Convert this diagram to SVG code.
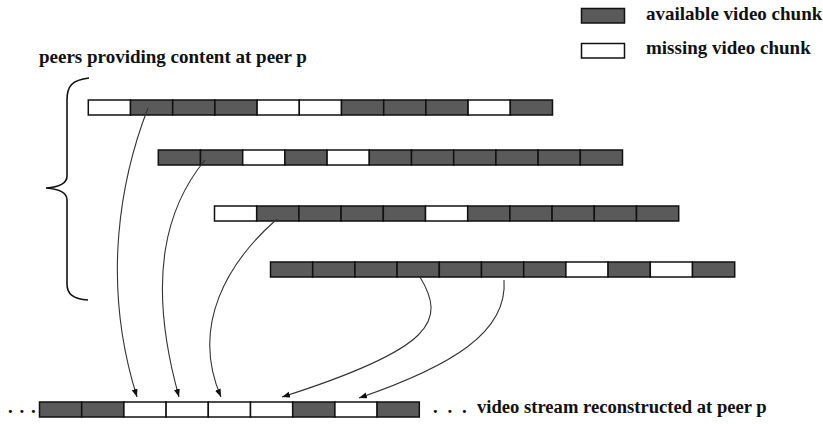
<svg xmlns="http://www.w3.org/2000/svg" width="823" height="424" viewBox="0 0 823 424">
<style>
.d{fill:#5a5a5a;stroke:#111;stroke-width:1.5}
.w{fill:#fff;stroke:#111;stroke-width:1.5}
.t{font-family:"Liberation Serif","Times New Roman",serif;font-weight:bold;font-size:19px;fill:#111}
.c{fill:none;stroke:#333;stroke-width:1.1}
</style>
<defs>
<marker id="ah" markerUnits="userSpaceOnUse" markerWidth="9" markerHeight="7" refX="8" refY="3" orient="auto">
<path d="M0,0 L8,3 L0,6 z" fill="#111"/>
</marker>
<g id="cell-d"><rect class="d" width="42.2" height="15"/></g>
<g id="cell-w"><rect class="w" width="42.2" height="15"/></g>
</defs>
<rect width="823" height="424" fill="#fff"/>

<g id="legend">
<rect class="d" x="581.5" y="8.5" width="43" height="14.5"/>
<text class="t" x="646" y="20">available video chunk</text>
<rect class="w" x="581.5" y="43.5" width="43" height="14.5"/>
<text class="t" x="646" y="54">missing video chunk</text>
</g>

<g id="title">
<text class="t" x="39" y="63">peers providing content at peer p</text>
</g>

<g id="brace">
<path d="M89,78 C72,80 67,86 67,100 L67,176 C67,183 60,187 46,188 C60,189 67,193 67,200 L67,284 C67,294 73,299 88,300" fill="none" stroke="#111" stroke-width="1.6"/>
</g>

<g id="peer1" transform="translate(88.3,100)">
<use href="#cell-w" x="0"/><use href="#cell-d" x="42.2"/><use href="#cell-d" x="84.4"/><use href="#cell-d" x="126.6"/><use href="#cell-w" x="168.8"/><use href="#cell-w" x="211"/><use href="#cell-d" x="253.2"/><use href="#cell-d" x="295.4"/><use href="#cell-d" x="337.6"/><use href="#cell-w" x="379.8"/><use href="#cell-d" x="422"/>
</g>

<g id="peer2" transform="translate(158.3,150)">
<use href="#cell-d" x="0"/><use href="#cell-d" x="42.2"/><use href="#cell-w" x="84.4"/><use href="#cell-d" x="126.6"/><use href="#cell-w" x="168.8"/><use href="#cell-d" x="211"/><use href="#cell-d" x="253.2"/><use href="#cell-d" x="295.4"/><use href="#cell-d" x="337.6"/><use href="#cell-d" x="379.8"/><use href="#cell-d" x="422"/>
</g>

<g id="peer3" transform="translate(214.5,206)">
<use href="#cell-w" x="0"/><use href="#cell-d" x="42.2"/><use href="#cell-d" x="84.4"/><use href="#cell-d" x="126.6"/><use href="#cell-d" x="168.8"/><use href="#cell-w" x="211"/><use href="#cell-d" x="253.2"/><use href="#cell-d" x="295.4"/><use href="#cell-d" x="337.6"/><use href="#cell-d" x="379.8"/><use href="#cell-d" x="422"/>
</g>

<g id="peer4" transform="translate(270.5,262)">
<use href="#cell-d" x="0"/><use href="#cell-d" x="42.2"/><use href="#cell-d" x="84.4"/><use href="#cell-d" x="126.6"/><use href="#cell-d" x="168.8"/><use href="#cell-d" x="211"/><use href="#cell-d" x="253.2"/><use href="#cell-w" x="295.4"/><use href="#cell-d" x="337.6"/><use href="#cell-w" x="379.8"/><use href="#cell-d" x="422"/>
</g>

<g id="stream">
<text class="t" x="8" y="413" letter-spacing="1">. . .</text>
<g transform="translate(39.5,402)">
<use href="#cell-d" x="0"/><use href="#cell-d" x="42.2"/><use href="#cell-w" x="84.4"/><use href="#cell-w" x="126.6"/><use href="#cell-w" x="168.8"/><use href="#cell-w" x="211"/><use href="#cell-d" x="253.2"/><use href="#cell-w" x="295.4"/><use href="#cell-d" x="337.6"/>
</g>
<text class="t" x="433" y="413" letter-spacing="2.5">. . .</text>
<text class="t" x="477" y="413" style="font-size:18.6px">video stream reconstructed at peer p</text>
</g>

<g id="connectors">
<path class="c" marker-end="url(#ah)" d="M148,108 C122,175 100,280 137,397"/>
<path class="c" marker-end="url(#ah)" d="M205,160 C168,205 145,275 179,397"/>
<path class="c" marker-end="url(#ah)" d="M277,219 C228,262 190,325 221,397"/>
<path class="c" marker-end="url(#ah)" d="M420,277 C446,320 436,348 282,397"/>
<path class="c" marker-end="url(#ah)" d="M504,280 C508,332 452,366 359,398"/>
</g>
</svg>
